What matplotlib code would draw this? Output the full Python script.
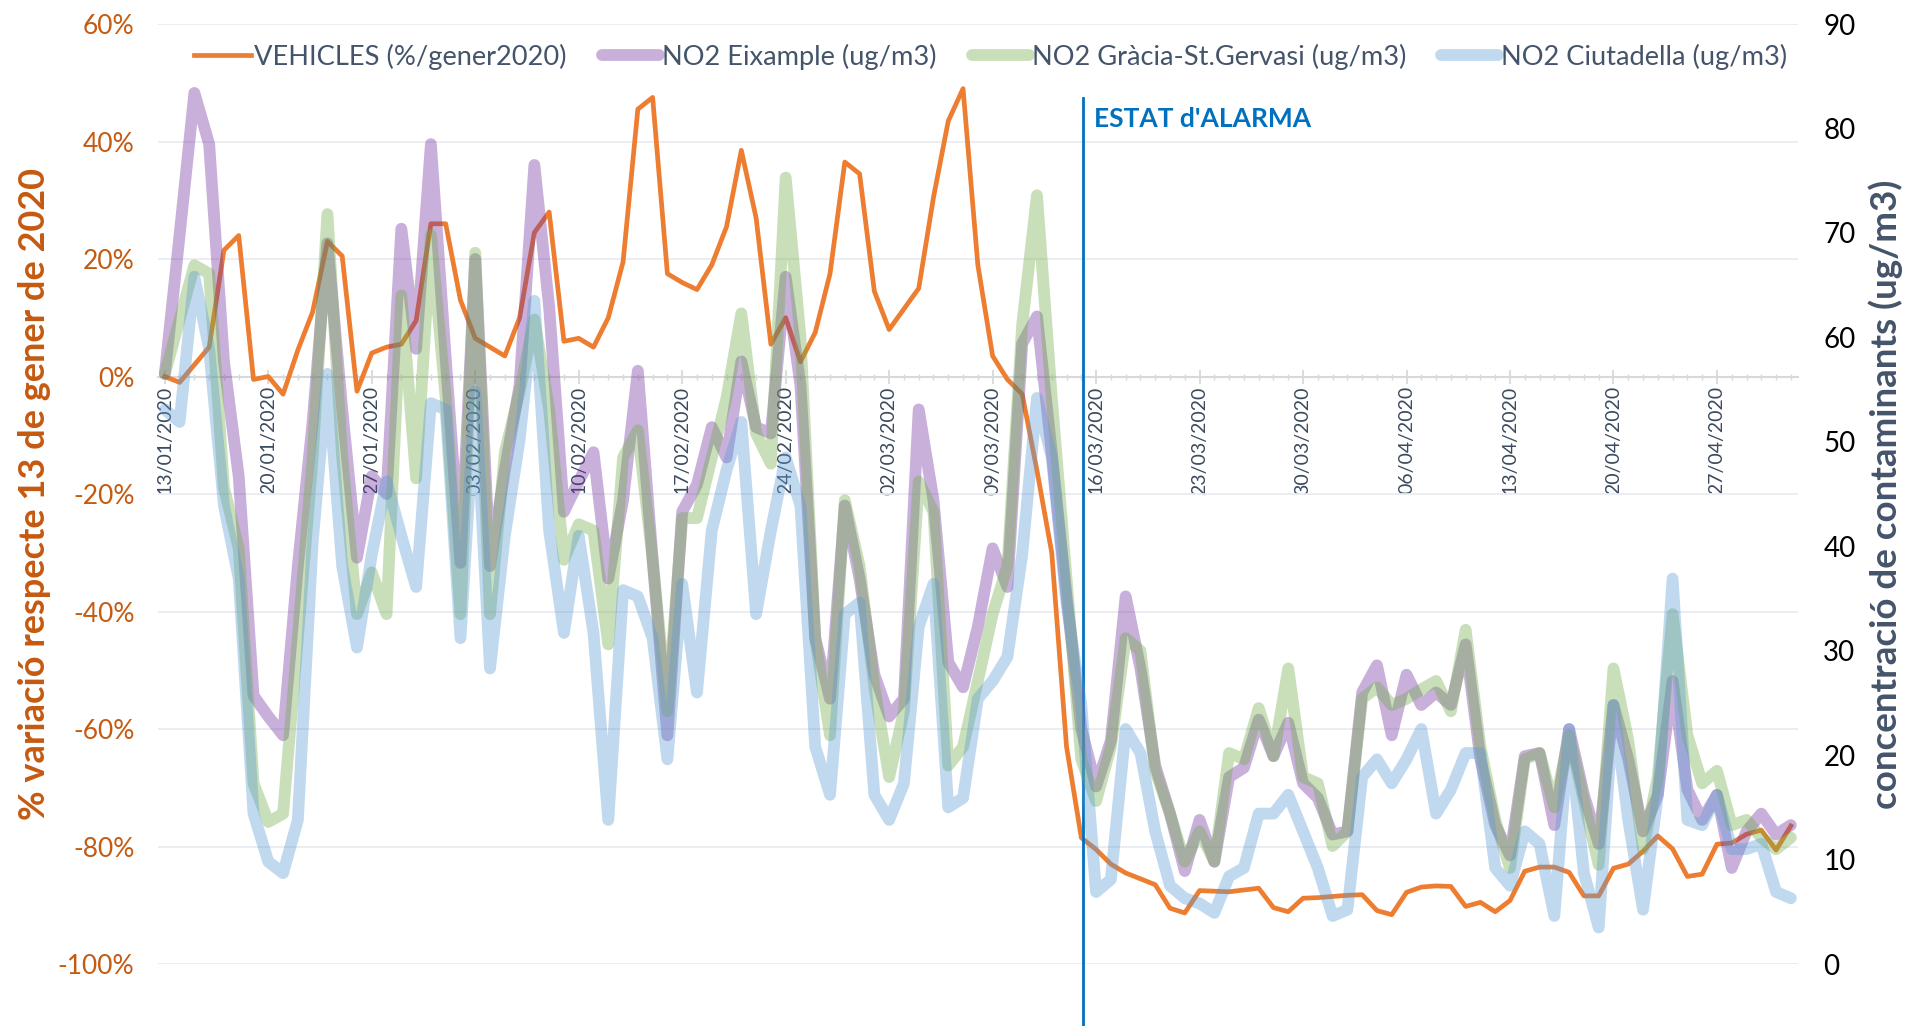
import pandas as pd
import matplotlib
matplotlib.use('Agg')
import matplotlib.pyplot as plt
import matplotlib.dates as mdates

## ---------------------------------------------------------------------
## data: one value per day, 13/01/2020 .. 02/05/2020
dates = pd.date_range('2020-01-13', '2020-05-02', freq='D')

# traffic, % change from 13 January 2020
vehicles = [0, -1, 2, 5, 21.5, 24, -0.5, 0, -3, 4.5, 11, 23, 20.5, -2.5, 4, 5, 5.5, 9.5, 26, 26,
            13, 6.5, 5, 3.5, 10, 24.5, 28, 6, 6.5, 5, 10, 19.5, 45.5, 47.5, 17.5, 16, 14.8, 19, 25.5, 38.5,
            27, 5.5, 10, 2.5, 7.5, 17.5, 36.5, 34.5, 14.5, 8, 11.5, 15, 30.5, 43.5, 49, 19, 3.5, -0.5, -3, -16,
            -30, -63, -78.5, -80.5, -83, -84.5, -85.5, -86.5, -90.5, -91.3, -87.5, -87.6, -87.7, -87.4, -87.1, -90.4, -91.1, -88.8, -88.7, -88.5,
            -88.3, -88.2, -90.9, -91.6, -87.8, -86.9, -86.7, -86.8, -90.2, -89.5, -91.1, -89.2, -84.2, -83.5, -83.5, -84.4, -88.4, -88.4, -83.7, -83.0,
            -80.8, -78.2, -80.4, -85.1, -84.7, -79.6, -79.4, -77.9, -77.2, -80.6, -76.5]

# NO2 (ug/m3)
eixample = [56.5, 69.8, 83.4, 78.5, 57.7, 46.7, 25.7, 23.7, 21.9, 38.1, 51.9, 69.0, 53.1, 38.9, 46.7, 45.0, 70.4, 58.9, 78.5, 58.0,
            38.4, 67.5, 38.1, 47.3, 55.4, 76.5, 62.9, 43.3, 46.2, 49.0, 36.9, 44.4, 56.8, 38.7, 21.9, 43.3, 45.9, 51.4, 48.5, 57.7,
            51.4, 50.8, 65.8, 55.4, 31.2, 25.4, 43.9, 36.9, 27.7, 23.7, 25.4, 53.1, 44.4, 28.9, 26.5, 32.3, 39.8, 36.1, 59.4, 62.0,
            49.0, 35.2, 22.5, 17.0, 21.4, 35.2, 28.3, 19.0, 14.4, 8.9, 13.8, 9.8, 17.9, 18.8, 23.4, 19.9, 23.1, 17.3, 15.9, 12.4,
            12.7, 26.0, 28.6, 21.9, 27.7, 24.8, 26.0, 24.8, 30.6, 19.6, 13.3, 10.4, 19.9, 20.2, 13.3, 22.5, 16.2, 11.5, 24.8, 19.6,
            12.7, 16.2, 27.1, 16.7, 13.8, 16.2, 9.2, 12.7, 14.4, 12.4, 13.3]
gracia = [56.5, 61.7, 66.9, 66.1, 45.6, 39.8, 17.3, 13.6, 14.4, 31.2, 48.5, 71.8, 48.5, 33.5, 37.5, 33.5, 64.0, 46.5, 69.8, 54.2,
          33.5, 68.1, 33.5, 49.0, 54.8, 61.7, 53.1, 38.7, 42.1, 41.5, 30.6, 48.5, 51.1, 38.7, 24.2, 42.7, 42.7, 48.5, 54.2, 62.3,
          50.8, 47.9, 75.3, 60.0, 31.2, 21.9, 44.4, 38.1, 26.5, 17.9, 24.2, 46.2, 43.3, 19.0, 20.8, 27.1, 33.5, 38.1, 61.2, 73.6,
          54.2, 36.9, 19.6, 15.6, 20.8, 31.2, 30.0, 18.5, 14.4, 9.8, 12.7, 9.8, 20.2, 19.6, 24.5, 19.9, 28.3, 17.9, 17.3, 11.3,
          12.7, 25.4, 26.5, 24.8, 25.4, 26.3, 27.1, 24.2, 32.0, 20.8, 13.8, 9.2, 19.6, 20.2, 15.0, 21.9, 15.6, 9.5, 28.3, 21.4,
          11.0, 17.9, 33.5, 21.9, 17.3, 18.5, 13.3, 13.8, 12.1, 11.0, 12.1]
ciutadella = [53.1, 51.9, 65.8, 58.9, 43.9, 36.9, 14.4, 9.8, 8.7, 13.8, 40.4, 56.5, 38.1, 30.3, 39.2, 46.2, 41.0, 36.1, 53.7, 53.1,
              31.2, 54.8, 28.3, 41.0, 50.2, 63.5, 41.5, 31.7, 41.0, 31.7, 13.8, 35.8, 35.2, 31.2, 19.6, 36.4, 26.0, 41.5, 47.3, 51.9,
              33.5, 41.5, 48.5, 43.9, 20.8, 16.2, 33.5, 34.6, 16.2, 13.8, 17.3, 32.3, 36.4, 15.0, 15.9, 25.4, 27.1, 29.4, 39.2, 54.2,
              48.5, 34.6, 24.8, 6.9, 8.1, 22.5, 20.2, 12.7, 7.5, 6.3, 5.8, 4.9, 8.4, 9.2, 14.4, 14.4, 16.2, 12.7, 9.2, 4.6,
              5.2, 17.9, 19.6, 17.3, 19.6, 22.5, 14.4, 16.7, 20.2, 20.2, 9.2, 7.5, 12.7, 11.5, 4.6, 22.5, 8.7, 3.5, 24.8, 13.8,
              5.2, 16.2, 36.9, 13.8, 13.3, 16.2, 11.0, 11.0, 11.5, 6.9, 6.3]

alarm_date = pd.Timestamp('2020-03-15 03:00')
left_ticks = [60, 40, 20, 0, -20, -40, -60, -80, -100]
right_ticks = [0, 10, 20, 30, 40, 50, 60, 70, 80, 90]

## ---------------------------------------------------------------------
## plot
plt.rcParams['font.family'] = ['Lato', 'DejaVu Sans']
orange = '#ED7D31'
slate = '#44546A'

fig = plt.figure(figsize=(19.11, 10.26), dpi=100)
ax = fig.add_axes([0.0827, 0.0604, 0.8583, 0.9162])
ax2 = ax.twinx()

ax.plot(dates, vehicles, color=orange, lw=3.4, label='VEHICLES (%/gener2020)', zorder=3)

l1, = ax2.plot(dates, eixample, color='#7030A0', lw=8.5, alpha=0.38, solid_capstyle='round',
               label='NO2 Eixample (ug/m3)')
l2, = ax2.plot(dates, gracia, color='#70AD47', lw=8.5, alpha=0.38, solid_capstyle='round',
               label='NO2 Gràcia-St.Gervasi (ug/m3)')
l3, = ax2.plot(dates, ciutadella, color='#5B9BD5', lw=8.5, alpha=0.38, solid_capstyle='round',
               label='NO2 Ciutadella (ug/m3)')

ax.set_xlim(dates[0] - pd.Timedelta(hours=11), dates[-1] + pd.Timedelta(hours=12))
ax.set_ylim(-100, 60)
ax2.set_ylim(0, 90)

# left axis
ax.set_yticks(left_ticks)
ax.set_yticklabels(['{0}%'.format(v) for v in left_ticks])
ax.tick_params(axis='y', length=0, pad=17, labelsize=19, labelcolor='#C55A11')
ax.grid(axis='y', color='#E9ECF1', lw=1.3)
ax.set_axisbelow(True)
ax.set_ylabel('% variació respecte 13 de gener de 2020', fontsize=26, fontweight='bold', color='#C55A11')
ax.yaxis.set_label_coords(-0.065, 0.5)

# right axis
ax2.set_yticks(right_ticks)
ax2.tick_params(axis='y', length=0, pad=18, labelsize=20, labelcolor='black')
ax2.set_ylabel('concentració de contaminants (ug/m3)', fontsize=26.5, fontweight='bold', color=slate,
               rotation=90)
ax2.yaxis.set_label_coords(1.043, 0.5)

for a in (ax, ax2):
    for s in ('left', 'right', 'top'):
        a.spines[s].set_visible(False)
ax2.spines['bottom'].set_visible(False)

# date axis crossing at 0%
ax.spines['bottom'].set_position(('data', 0))
ax.spines['bottom'].set_color('#D9D9D9')
ax.spines['bottom'].set_linewidth(1.5)
ax.xaxis.set_major_locator(mdates.WeekdayLocator(byweekday=mdates.MO))
ax.xaxis.set_minor_locator(mdates.DayLocator())
ax.xaxis.set_major_formatter(mdates.DateFormatter('%d/%m/%Y'))
ax.tick_params(axis='x', which='major', direction='inout', length=10, width=1.3, color='#D9D9D9',
               pad=2, labelsize=14, labelcolor='#3B4A5E', labelrotation=90)
ax.tick_params(axis='x', which='minor', direction='inout', length=5, width=1.0, color='#D9D9D9')

# state of alarm
ax.axvline(alarm_date, ymin=-0.066, ymax=0.921, color='#0070C0', lw=2, clip_on=False, zorder=4)
ax.text(alarm_date + pd.Timedelta(hours=17), 43.8, "ESTAT d'ALARMA", color='#0070C0',
        fontsize=19, fontweight='bold', va='center', ha='left')

handles = [ax.get_lines()[0], l1, l2, l3]
leg = ax2.legend(handles=handles, loc='upper left', bbox_to_anchor=(0.022, 0.979), ncol=4,
                 frameon=False, fontsize=19.6, handlelength=2.1, handletextpad=0.1,
                 columnspacing=1.3, borderaxespad=0, borderpad=0)
for t in leg.get_texts():
    t.set_color(slate)

fig.savefig('out.png', dpi=100)
